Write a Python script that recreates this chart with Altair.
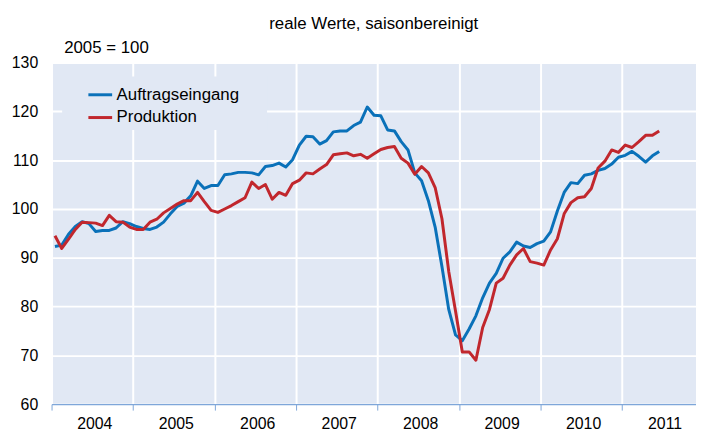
import altair as alt
import pandas as pd

# ---------------- data ----------------
start_month = "2004-01"
auftragseingang = [
    92.3, 92.6, 94.8, 96.4, 97.4, 97.0, 95.4, 95.6, 95.6, 96.1, 97.4, 97.0,   # 2004
    96.4, 96.0, 95.8, 96.3, 97.3, 99.0, 100.5, 101.2, 102.7, 105.7, 104.2, 104.8,  # 2005
    104.8, 107.0, 107.2, 107.5, 107.5, 107.4, 107.0, 108.7, 108.9, 109.4, 108.6, 110.1,  # 2006
    113.1, 114.9, 114.8, 113.3, 114.0, 115.8, 116.0, 116.0, 117.1, 117.8, 120.9, 119.2,  # 2007
    119.1, 116.2, 116.0, 113.8, 112.1, 107.4, 105.8, 101.7, 96.3, 88.2, 79.4, 74.2,  # 2008
    73.0, 75.4, 78.1, 81.8, 84.8, 86.8, 89.9, 91.2, 93.2, 92.4, 92.1, 92.9,  # 2009
    93.4, 95.3, 99.6, 103.4, 105.4, 105.2, 106.9, 107.2, 107.9, 108.3, 109.2, 110.6,  # 2010
    111.0, 111.8, 110.8, 109.6, 110.9, 111.8,  # 2011
]
produktion = [
    94.5, 91.9, 93.8, 95.8, 97.3, 97.2, 97.1, 96.6, 98.7, 97.4, 97.3, 96.3,
    95.8, 95.8, 97.3, 97.9, 99.2, 100.1, 101.0, 101.7, 101.7, 103.4, 101.5, 99.7,
    99.3, 100.0, 100.7, 101.5, 102.3, 105.5, 104.2, 105.0, 102.0, 103.4, 102.8, 105.2,
    105.9, 107.4, 107.2, 108.2, 109.1, 111.1, 111.3, 111.5, 110.9, 111.2, 110.4, 111.3,
    112.2, 112.6, 112.8, 110.4, 109.4, 107.1, 108.7, 107.4, 104.4, 98.0, 87.2, 79.1,
    70.7, 70.7, 69.0, 75.7, 79.4, 84.8, 85.8, 88.5, 90.6, 91.9, 89.2, 88.9,
    88.5, 91.6, 93.9, 99.0, 101.3, 102.3, 102.5, 104.2, 108.4, 109.8, 112.1, 111.6,
    113.1, 112.6, 113.8, 115.1, 115.1, 116.0,
]
series_names = ["Auftragseingang", "Produktion"]
series_colors = ["#0A71B9", "#C1272D"]
year_ticks = [2004, 2005, 2006, 2007, 2008, 2009, 2010, 2011]
y_ticks = [60, 70, 80, 90, 100, 110, 120, 130]
title_text = "reale Werte, saisonbereinigt"
base_text = "2005 = 100"

# ---------------- tables ----------------
dates = pd.date_range(start_month, periods=len(auftragseingang), freq="MS")
t = dates.year + (dates.month - 0.5) / 12.0
df = pd.concat([
    pd.DataFrame({"t": t, "wert": auftragseingang, "reihe": series_names[0]}),
    pd.DataFrame({"t": t, "wert": produktion, "reihe": series_names[1]}),
], ignore_index=True)
mids = pd.DataFrame({"mid": [y + 0.5 for y in year_ticks]})

FONT = "Liberation Sans"
BG = "#E1E8F4"
AXIS_BLUE = "#7EA6D9"
W, H = 651, 345

x_scale = alt.Scale(domain=[2004, 2011.91], nice=False, zero=False)
y_scale = alt.Scale(domain=[60, 130], nice=False, zero=False)

legend_bg = alt.Chart(pd.DataFrame({"k": [0]})).mark_rect(color=BG).encode(
    x=alt.value(10.7), x2=alt.value(217.7), y=alt.value(14), y2=alt.value(68)
)

lines = alt.Chart(df).mark_line(strokeWidth=3, strokeJoin="round").encode(
    x=alt.X("t:Q", scale=x_scale,
            axis=alt.Axis(values=year_ticks, orient="bottom", labels=False, title=None,
                          grid=True, gridColor="white", gridWidth=2,
                          ticks=True, tickSize=6, tickColor=AXIS_BLUE, tickWidth=1,
                          domain=True, domainColor=AXIS_BLUE, domainWidth=1.2)),
    y=alt.Y("wert:Q", scale=y_scale,
            axis=alt.Axis(values=y_ticks, title=None, grid=True, gridColor="white",
                          gridWidth=2, ticks=False, domain=False, labelFontSize=16,
                          labelFont=FONT, labelColor="black", labelPadding=14)),
    color=alt.Color("reihe:N", sort=series_names,
                    scale=alt.Scale(domain=series_names, range=series_colors),
                    legend=alt.Legend(title=None, orient="none", legendX=35.7, legendY=19,
                                      direction="vertical", symbolType="stroke",
                                      symbolStrokeWidth=3, symbolSize=576,
                                      labelFontSize=17, labelFont=FONT, labelColor="black",
                                      labelOffset=3, rowPadding=1, padding=0)),
)

year_labels = alt.Chart(mids).mark_point(opacity=0).encode(
    x=alt.X("mid:Q", scale=x_scale,
            axis=alt.Axis(values=[y + 0.5 for y in year_ticks], orient="bottom", title=None,
                          ticks=False, tickSize=0, grid=False, domain=False,
                          labelExpr="toString(floor(datum.value))", labelFontSize=16,
                          labelFont=FONT, labelColor="black", labelPadding=12,
                          labelOffset=2)),
)

title_label = alt.Chart(pd.DataFrame({"txt": [title_text]})).mark_text(
    align="center", baseline="alphabetic", fontSize=17, font=FONT, color="black"
).encode(x=alt.value(W / 2), y=alt.value(-34), text="txt:N")

base_label = alt.Chart(pd.DataFrame({"txt": [base_text]})).mark_text(
    align="left", baseline="alphabetic", fontSize=17, font=FONT, color="black"
).encode(x=alt.value(12.7), y=alt.value(-9.5), text="txt:N")

chart = alt.layer(legend_bg, lines, year_labels, title_label, base_label).resolve_axis(
    x="independent"
).properties(
    width=W, height=H,
    autosize=alt.AutoSizeParams(type="none"),
    padding={"left": 44, "top": 53, "right": 0, "bottom": 27},
).configure(background="white").configure_view(fill=BG, stroke="transparent")

chart.save("out.html", embed_options={"renderer": "svg", "actions": False})
